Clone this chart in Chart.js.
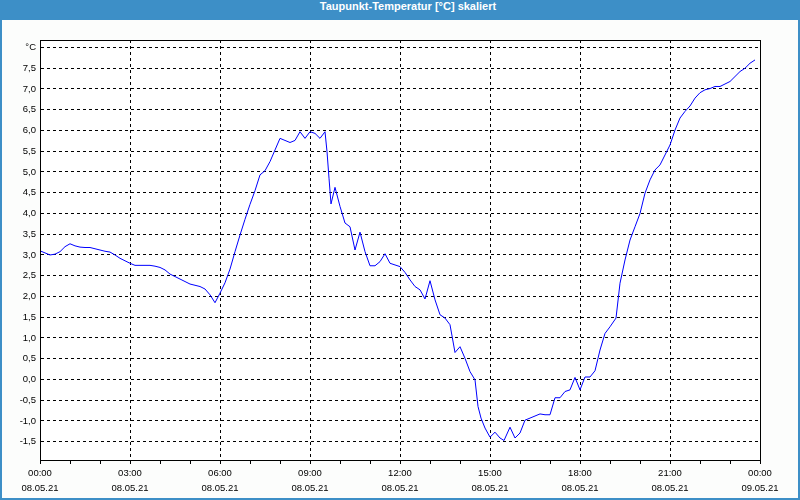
<!DOCTYPE html>
<html>
<head>
<meta charset="utf-8">
<script src="https://cdn.jsdelivr.net/npm/chart.js@4/dist/chart.umd.min.js"></script>
<style>
    body { margin: 0; background: #fff; }
    #frame {
        position: relative;
        width: 800px;
        height: 500px;
        box-sizing: border-box;
        background: #fcfdfc;
        border-left: 2px solid #3d8fc7;
        border-right: 2px solid #3d8fc7;
        border-bottom: 2px solid #3d8fc7;
    }
    #title {
        position: absolute;
        left: -2px;
        top: 0;
        width: 800px;
        height: 20px;
        line-height: 19px;
        background: #3d8fc7;
        color: #fff;
        font: bold 11px "Liberation Sans", Arial, sans-serif;
        text-align: center;
        padding-left: 16px;
        box-sizing: border-box;
    }
    #chart { position: absolute; left: -2px; top: 0; }
</style>
</head>
<body>
<div id="frame">
    <canvas id="chart" width="800" height="500"></canvas>
    <div id="title">Taupunkt-Temperatur [°C] skaliert</div>
</div>
<script>
// minutes since 08.05.21 00:00
const minutes = [
    0, 10, 20, 30, 40, 50, 60, 70, 80, 90, 100, 110, 120, 130, 140, 150, 160, 170,
    180, 190, 200, 210, 220, 230, 240, 250, 260, 270, 280, 290, 300, 310, 320, 330,
    340, 350, 360, 370, 380, 390, 400, 410, 420, 430, 440, 450, 460, 470, 480, 490,
    500, 510, 520, 530, 540, 550, 560, 570, 574, 578, 582, 590, 600, 610, 620, 630,
    640, 650, 660, 670, 680, 690, 700, 710, 720, 730, 740, 750, 760, 770, 780, 790,
    800, 810, 820, 830, 840, 850, 860, 870, 876, 882, 890, 900, 910, 920, 928, 940,
    950, 960, 970, 980, 990, 1000, 1010, 1020, 1030, 1040, 1050, 1060, 1070, 1080,
    1090, 1100, 1110, 1120, 1130, 1140, 1152, 1160, 1170, 1180, 1190, 1200, 1210,
    1220, 1230, 1240, 1250, 1260, 1270, 1280, 1290, 1300, 1310, 1320, 1330, 1340,
    1350, 1360, 1370, 1380, 1390, 1400, 1410, 1420, 1430
];
const dewPoint = [
    3.10, 3.05, 3.00, 3.02, 3.08, 3.20, 3.27, 3.22, 3.19, 3.18, 3.18, 3.15, 3.12, 3.09, 3.07, 3.00, 2.92, 2.86,
    2.80, 2.75, 2.75, 2.75, 2.75, 2.73, 2.70, 2.64, 2.54, 2.48, 2.42, 2.36, 2.30, 2.27, 2.24, 2.18,
    2.04, 1.85, 2.08, 2.33, 2.66, 3.08, 3.48, 3.86, 4.22, 4.55, 4.93, 5.03, 5.25, 5.53, 5.81, 5.76,
    5.71, 5.76, 5.97, 5.81, 5.97, 5.93, 5.81, 5.97, 5.49, 4.85, 4.23, 4.63, 4.17, 3.77, 3.68, 3.12,
    3.55, 3.08, 2.74, 2.74, 2.84, 3.03, 2.80, 2.76, 2.72, 2.58, 2.40, 2.24, 2.16, 1.94, 2.38, 1.92,
    1.56, 1.48, 1.32, 0.65, 0.79, 0.51, 0.19, -0.01, -0.65, -0.93, -1.17, -1.39, -1.27, -1.41, -1.47, -1.15,
    -1.41, -1.29, -0.98, -0.93, -0.88, -0.83, -0.85, -0.85, -0.44, -0.44, -0.29, -0.25, 0.05, -0.25,
    0.06, 0.06, 0.21, 0.71, 1.11, 1.27, 1.48, 2.32, 2.88, 3.36, 3.68, 4.00, 4.49,
    4.81, 5.05, 5.17, 5.41, 5.65, 6.01, 6.30, 6.46, 6.59, 6.78, 6.91, 6.98, 7.01,
    7.06, 7.06, 7.12, 7.18, 7.30, 7.42, 7.50, 7.62, 7.70
];
const yTicks = [-1.5, -1.0, -0.5, 0.0, 0.5, 1.0, 1.5, 2.0, 2.5, 3.0, 3.5, 4.0, 4.5, 5.0, 5.5, 6.0, 6.5, 7.0, 7.5, 8.0];
const timeLabels = ['00:00', '03:00', '06:00', '09:00', '12:00', '15:00', '18:00', '21:00', '00:00'];
const dateLabels = ['08.05.21', '08.05.21', '08.05.21', '08.05.21', '08.05.21', '08.05.21', '08.05.21', '08.05.21', '09.05.21'];

const labelFont = { family: '"Liberation Sans", Arial, sans-serif', size: 9.5, lineHeight: 15 / 9.5 };

// white plot area and solid frame around it
const plotBox = {
    id: 'plotBox',
    beforeDraw(chart) {
        const { ctx, chartArea: a } = chart;
        ctx.save();
        ctx.fillStyle = '#ffffff';
        ctx.fillRect(a.left, a.top, a.right - a.left, a.bottom - a.top);
        ctx.restore();
    },
    afterDraw(chart) {
        const { ctx, chartArea: a } = chart;
        ctx.save();
        ctx.strokeStyle = '#000';
        ctx.lineWidth = 1;
        ctx.strokeRect(Math.round(a.left) + 0.5, Math.round(a.top) + 0.5,
            Math.round(a.right - a.left) , Math.round(a.bottom - a.top));
        ctx.restore();
    }
};

new Chart(document.getElementById('chart'), {
    type: 'line',
    data: {
        datasets: [{
            data: minutes.map((m, i) => ({ x: m, y: dewPoint[i] })),
            borderColor: '#0000ff',
            borderWidth: 1,
            pointRadius: 0,
            tension: 0,
            fill: false
        }]
    },
    options: {
        responsive: false,
        animation: false,
        layout: { padding: { top: 40, right: 40, left: 0, bottom: 0 } },
        plugins: {
            legend: { display: false },
            tooltip: { enabled: false },
            title: { display: false }
        },
        scales: {
            x: {
                type: 'linear',
                min: 0,
                max: 1440,
                afterFit: scale => { scale.height = 40; },
                ticks: {
                    stepSize: 60,
                    autoSkip: false,
                    maxRotation: 0,
                    padding: 2,
                    color: '#000',
                    font: labelFont,
                    callback: value => value % 180 === 0
                        ? [timeLabels[value / 180], dateLabels[value / 180]]
                        : ''
                },
                grid: {
                    color: ctx => (ctx.tick && ctx.tick.value % 180 === 0) ? '#000' : 'rgba(0,0,0,0)',
                    tickColor: '#000',
                    tickLength: 4,
                    lineWidth: 1
                },
                border: { display: true, color: '#000', width: 1, dash: [3, 3] }
            },
            y: {
                type: 'linear',
                min: -1.94,
                max: 8.18,
                afterFit: scale => { scale.width = 40; },
                afterBuildTicks: scale => { scale.ticks = yTicks.map(v => ({ value: v })); },
                ticks: {
                    padding: 4,
                    color: '#000',
                    font: labelFont,
                    callback: value => value === 8 ? '°C' : value.toFixed(1).replace('.', ',')
                },
                grid: {
                    color: '#000',
                    drawTicks: false,
                    lineWidth: 1
                },
                border: { display: true, color: '#000', width: 1, dash: [3, 3] }
            }
        }
    },
    plugins: [plotBox]
});
</script>
</body>
</html>
